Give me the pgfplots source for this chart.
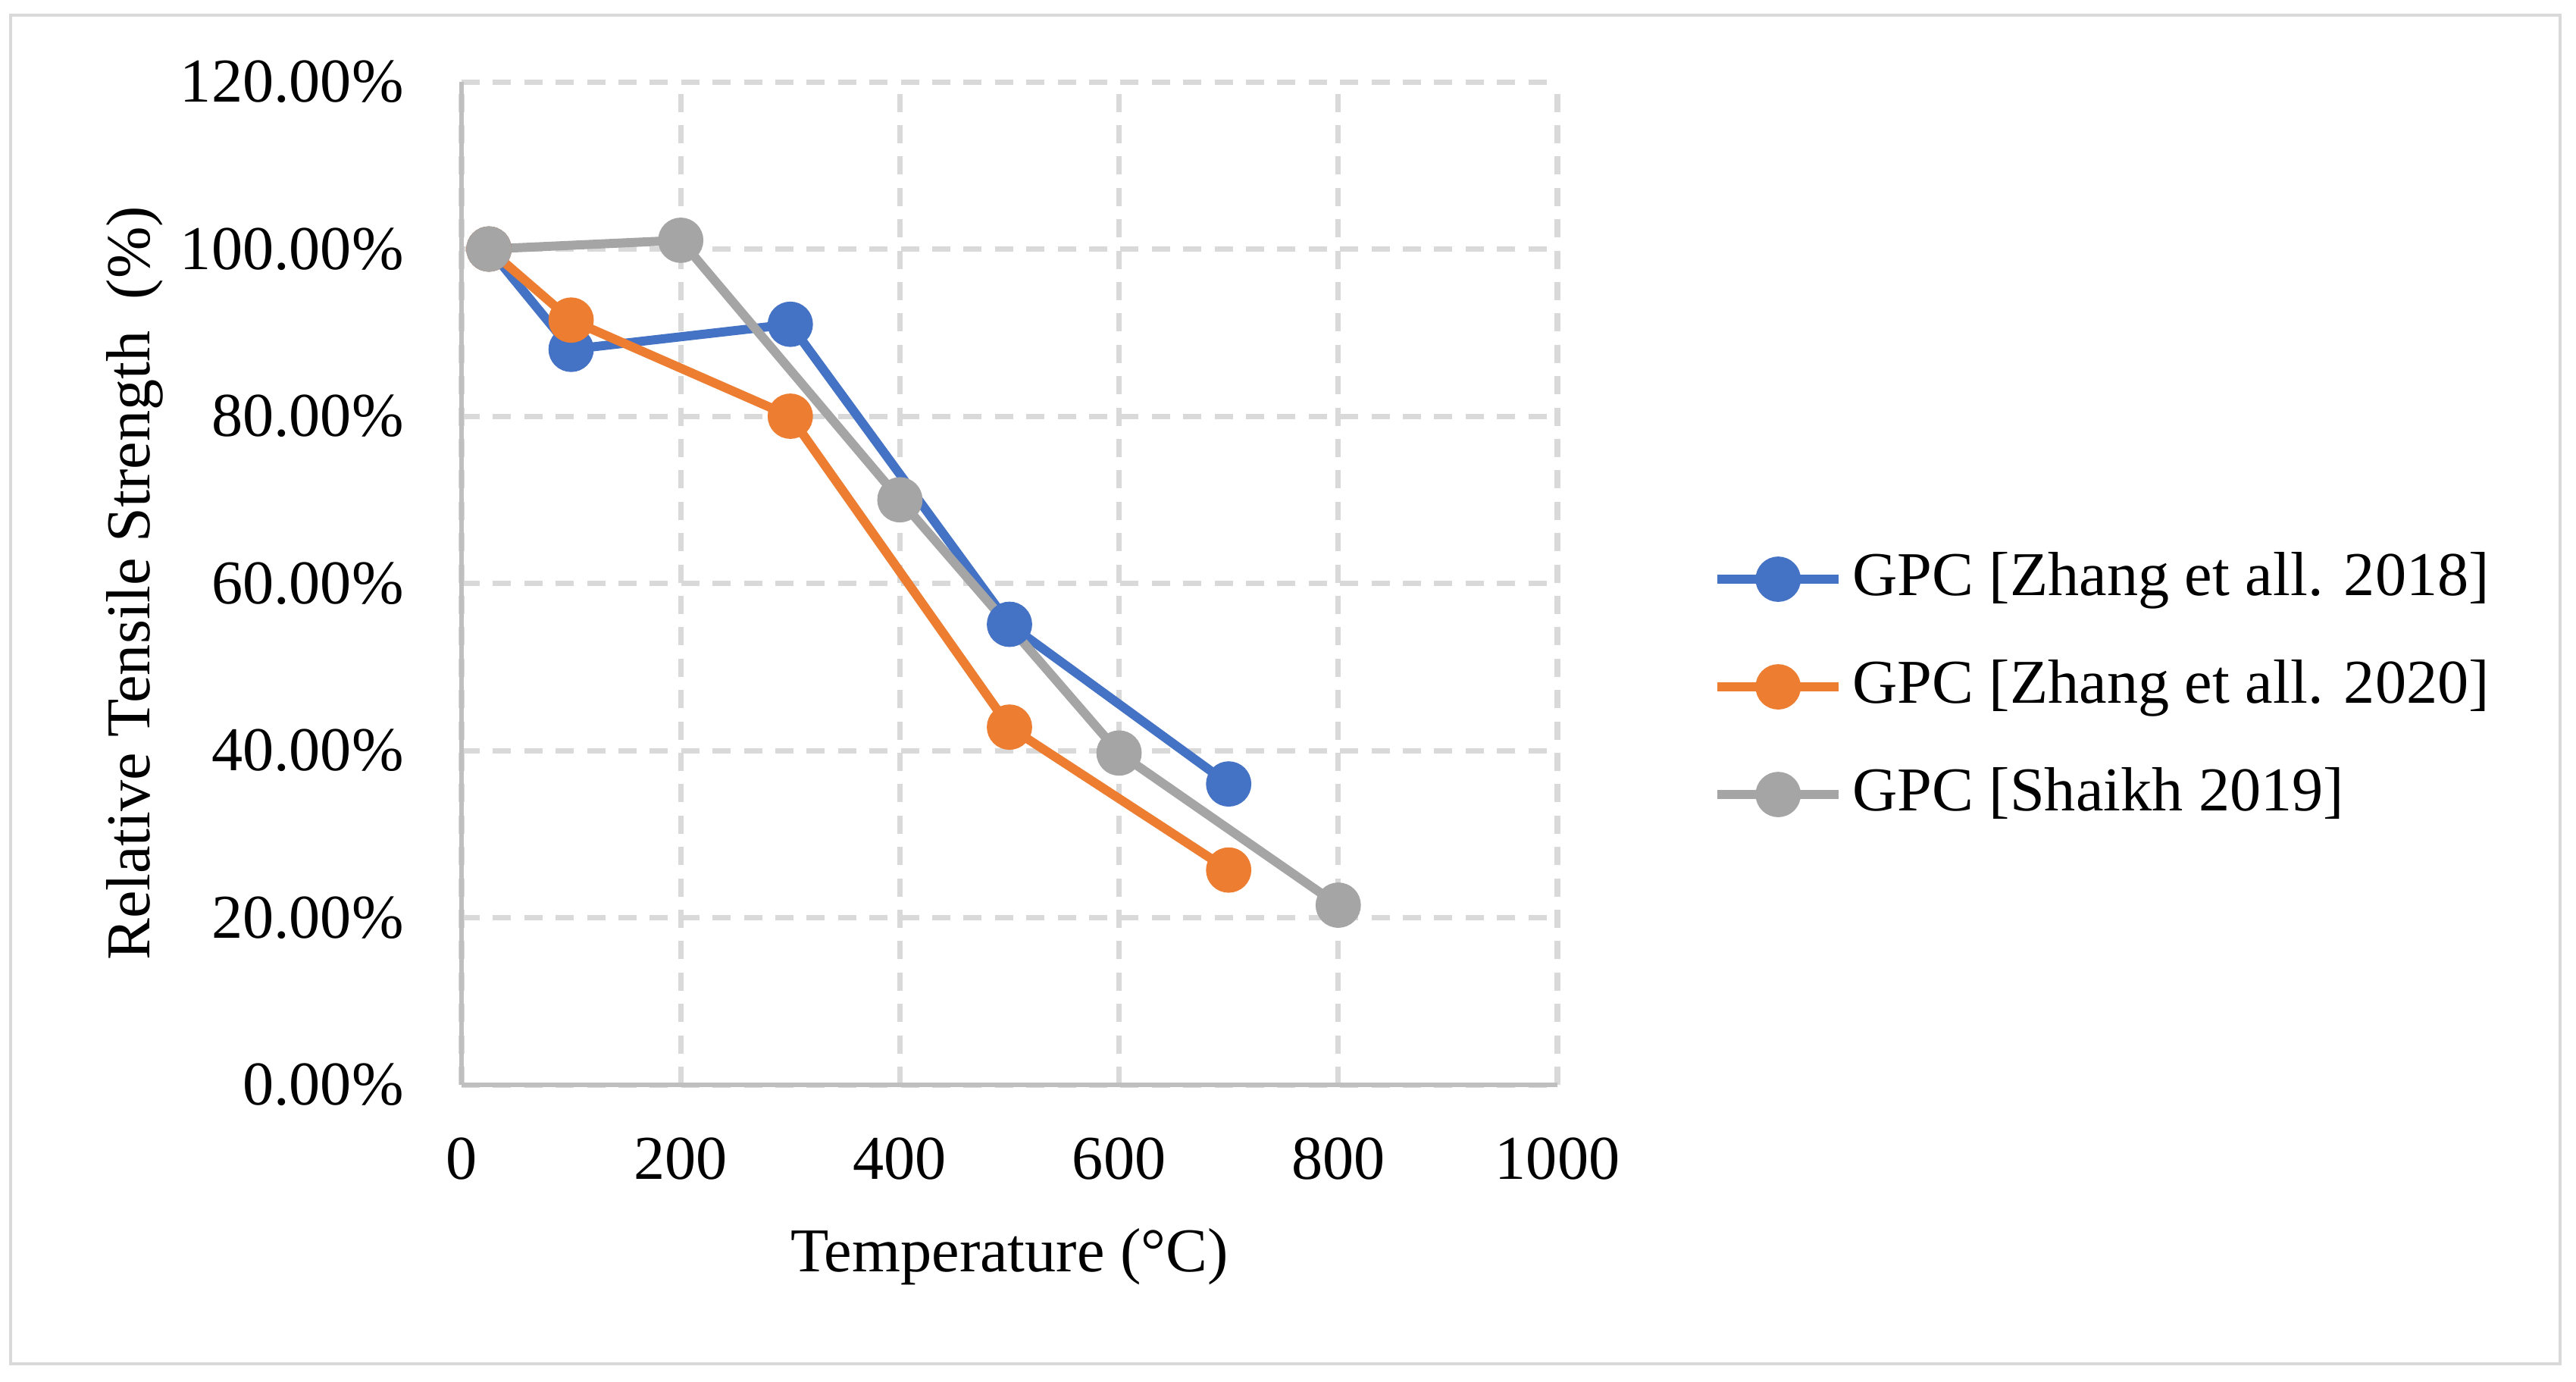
\documentclass[border=0pt]{standalone}
\usepackage{fontspec}
\setmainfont{Liberation Serif}
\usepackage{pgfplots}
\pgfplotsset{compat=1.18}
\definecolor{sblue}{HTML}{4472C4}
\definecolor{sorange}{HTML}{ED7D31}
\definecolor{sgray}{HTML}{A5A5A5}
\definecolor{gridgray}{HTML}{D9D9D9}
\definecolor{axisgray}{HTML}{BFBFBF}

\begin{document}
\fontsize{11.7pt}{14pt}\selectfont
\begin{tikzpicture}
  % page frame and the chart-area border
  \path (0,0) rectangle (16.995,9.11);
  \draw[gridgray, line width=0.02cm] (0.07,0.115) rectangle (16.89,9.01);
  \begin{axis}[
    at={(3.045cm,1.955cm)}, anchor=south west,
    scale only axis, width=7.23cm, height=6.615cm,
    xmin=0, xmax=1000, ymin=0, ymax=120,
    xtick={0,200,400,600,800,1000},
    xticklabels={0,200,400,600,800,1000},
    ytick={0,20,40,60,80,100,120},
    yticklabels={0.00\%,20.00\%,40.00\%,60.00\%,80.00\%,100.00\%,120.00\%},
    major tick length=0pt,
    xticklabel style={inner sep=0pt, anchor=north, yshift=-0.34cm},
    yticklabel style={inner sep=0pt, anchor=east, xshift=-0.375cm},
    axis x line*=bottom, axis y line*=left,
    axis line style={-, axisgray, line width=0.9pt},
    grid=major,
    major grid style={gridgray, line width=1pt, dash pattern=on 0.12cm off 0.087cm},
    xlabel={Temperature (°C)},
    ylabel={Relative Tensile Strength\ \ (\%)},
    xlabel style={at={(axis description cs:0.5,-0.186)}, anchor=base, inner sep=0pt},
    ylabel style={at={(axis description cs:-0.2849,0.5)}, anchor=base, inner sep=0pt},
    legend style={at={(axis description cs:1.141,0.3968)}, anchor=west,
      draw=none, fill=none, inner sep=0pt, row sep=0.32cm,
      nodes={inner sep=0pt, text height=0.30cm, text depth=0.09cm},
      /tikz/every odd column/.append style={column sep=0.06cm}},
    legend cell align=left,
    legend image code/.code={
      \draw[mark repeat=2,mark phase=2,#1] plot coordinates {(0cm,0cm) (0.4cm,0cm) (0.8cm,0cm)};},
    every axis plot/.append style={line width=1.7pt, mark=*, mark size=3.4pt},
  ]
    % GPC [Zhang et all. 2018]
    \addplot[color=sblue, mark options={solid, fill=sblue}] coordinates {
      (25,100) (100,88.0) (300,91.0) (500,55.1) (700,36.0)
    };
    % GPC [Zhang et all. 2020]
    \addplot[color=sorange, mark options={solid, fill=sorange}] coordinates {
      (25,100) (100,91.5) (300,80.0) (500,42.8) (700,25.7)
    };
    % GPC [Shaikh 2019]
    \addplot[color=sgray, mark options={solid, fill=sgray}] coordinates {
      (25,100) (200,101.05) (400,70.0) (600,39.7) (800,21.5)
    };
    \legend{GPC [Zhang et all. 2018], GPC [Zhang et all. 2020], GPC [Shaikh 2019]}
  \end{axis}
\end{tikzpicture}
\end{document}
